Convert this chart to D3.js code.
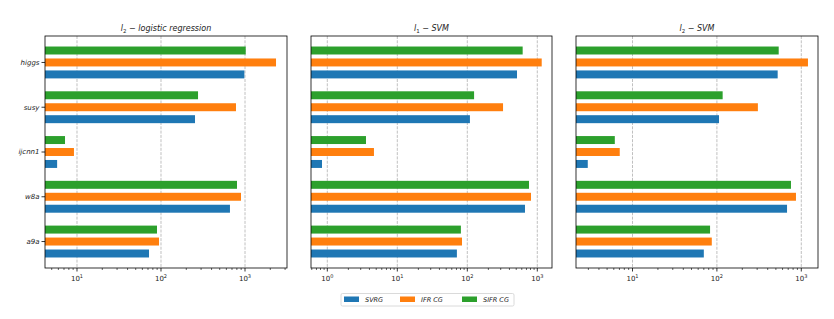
<!DOCTYPE html>
<html>
<head>
<meta charset="utf-8">
<script src="https://cdn.jsdelivr.net/npm/d3@7"></script>
<style>
  body { margin: 0; background: #fff; }
  text { font-family: "DejaVu Sans", sans-serif; fill: #222; }
</style>
</head>
<body>
<svg id="chart" width="834" height="319"></svg>
<script>
// datasets, top to bottom
var datasets = ["higgs", "susy", "ijcnn1", "w8a", "a9a"];
var methods = ["SVRG", "IFR CG", "SIFR CG"];
var colors = ["#1f77b4", "#ff7f0e", "#2ca02c"];

// l2 logistic regression
var logreg_svrg = [983, 254, 5.8, 662, 72];
var logreg_ifr = [2340, 781, 9.2, 896, 94.7];
var logreg_sifr = [1020, 276, 7.2, 803, 89.6];

// l1 svm
var l1svm_svrg = [513, 109, 0.84, 667, 71];
var l1svm_ifr = [1156, 324, 4.64, 813, 84];
var l1svm_sifr = [618, 125, 3.57, 761, 81];

// l2 svm
var l2svm_svrg = [525, 106, 2.95, 678, 70];
var l2svm_ifr = [1200, 306, 7.06, 865, 87];
var l2svm_sifr = [540, 117, 6.17, 755, 83];

var panels = [
  { sub: "2", name: "logistic regression", series: [logreg_svrg, logreg_ifr, logreg_sifr],
    left: 45, right: 287, xdom: [4.16, 3162], ticks: [10, 100, 1000] },
  { sub: "1", name: "SVM", series: [l1svm_svrg, l1svm_ifr, l1svm_sifr],
    left: 311, right: 552, xdom: [0.585, 1622], ticks: [1, 10, 100, 1000] },
  { sub: "2", name: "SVM", series: [l2svm_svrg, l2svm_ifr, l2svm_sifr],
    left: 576, right: 818, xdom: [2.14, 1578], ticks: [10, 100, 1000] }
];

var svg = d3.select("#chart");
var top_y = 36, bottom_y = 268;
var off = 0.267, barh = 0.178;

// category 0 (a9a) is at the bottom like matplotlib
var yScale = d3.scaleLinear().domain([-0.591, 4.591]).range([bottom_y, top_y]);
function catPos(i) { return datasets.length - 1 - i; }

panels.forEach(function(p, pi) {
  var x = d3.scaleLog().domain(p.xdom).range([p.left, p.right]);
  var g = svg.append("g");

  // grid
  g.selectAll("line.grid").data(p.ticks).enter().append("line")
    .attr("x1", function(d) { return x(d); })
    .attr("x2", function(d) { return x(d); })
    .attr("y1", top_y).attr("y2", bottom_y)
    .style("stroke", "#b0b0b0")
    .style("stroke-width", 0.8)
    .style("stroke-dasharray", "3,1.3");

  // bars
  p.series.forEach(function(vals, si) {
    g.selectAll("rect.s" + si).data(vals).enter().append("rect")
      .attr("x", p.left)
      .attr("y", function(d, i) { return yScale(catPos(i) + (si - 1) * off + barh / 2); })
      .attr("width", function(d) { return x(d) - p.left; })
      .attr("height", function(d) { return yScale(0) - yScale(barh); })
      .attr("fill", colors[si]);
  });

  // frame
  g.append("rect")
    .attr("x", p.left).attr("y", top_y)
    .attr("width", p.right - p.left).attr("height", bottom_y - top_y)
    .attr("fill", "none").attr("stroke", "#000").attr("stroke-width", 0.8);

  // minor ticks
  var minors = [];
  var lo = Math.floor(Math.log10(p.xdom[0])), hi = Math.ceil(Math.log10(p.xdom[1]));
  for (var e = lo; e < hi; e++) {
    for (var m = 2; m < 10; m++) {
      var v = m * Math.pow(10, e);
      if (v >= p.xdom[0] && v <= p.xdom[1]) minors.push(v);
    }
  }
  g.selectAll("line.minor").data(minors).enter().append("line")
    .attr("x1", function(d) { return x(d); }).attr("x2", function(d) { return x(d); })
    .attr("y1", bottom_y).attr("y2", bottom_y + 2)
    .style("stroke", "#000").style("stroke-width", 0.6);

  // major ticks + labels
  g.selectAll("line.major").data(p.ticks).enter().append("line")
    .attr("x1", function(d) { return x(d); }).attr("x2", function(d) { return x(d); })
    .attr("y1", bottom_y).attr("y2", bottom_y + 3.5)
    .style("stroke", "#000").style("stroke-width", 0.8);

  var lab = g.selectAll("text.xt").data(p.ticks).enter().append("text")
    .attr("x", function(d) { return x(d); })
    .attr("y", 281)
    .attr("text-anchor", "middle")
    .style("font-size", "7px");
  lab.append("tspan").text("10");
  lab.append("tspan").attr("dy", -3).style("font-size", "5px")
    .text(function(d) { return Math.round(Math.log10(d)); });

  // title
  var t = g.append("text")
    .attr("x", (p.left + p.right) / 2).attr("y", 31)
    .attr("text-anchor", "middle")
    .style("font-size", "8px").style("font-style", "italic");
  t.append("tspan").text("l");
  t.append("tspan").attr("dy", 2).style("font-size", "5.5px").style("font-style", "normal").text(p.sub);
  t.append("tspan").attr("dy", -2).text(" \u2212 " + p.name);

  // y labels on first panel only
  if (pi == 0) {
    g.selectAll("line.yt").data(datasets).enter().append("line")
      .attr("x1", p.left - 3.5).attr("x2", p.left)
      .attr("y1", function(d, i) { return yScale(catPos(i)); })
      .attr("y2", function(d, i) { return yScale(catPos(i)); })
      .style("stroke", "#000").style("stroke-width", 0.8);
    g.selectAll("text.yl").data(datasets).enter().append("text")
      .attr("x", p.left - 5.5)
      .attr("y", function(d, i) { return yScale(catPos(i)); })
      .attr("dy", "0.35em")
      .attr("text-anchor", "end")
      .style("font-size", "7px").style("font-style", "italic")
      .text(function(d) { return d; });
  }
});

// legend
var leg = svg.append("g");
leg.append("rect")
  .attr("x", 341).attr("y", 293.5).attr("width", 173).attr("height", 12.5)
  .attr("rx", 1.5)
  .attr("fill", "#fff").attr("stroke", "#d0d0d0").attr("stroke-width", 0.8);
var legX = [344, 400, 462];
methods.forEach(function(m, i) {
  leg.append("rect").attr("x", legX[i]).attr("y", 296.5)
    .attr("width", 15).attr("height", 5.5).attr("fill", colors[i]);
  leg.append("text").attr("x", legX[i] + 21).attr("y", 302)
    .style("font-size", "6.5px").style("font-style", "italic")
    .text(m);
});
</script>
</body>
</html>
